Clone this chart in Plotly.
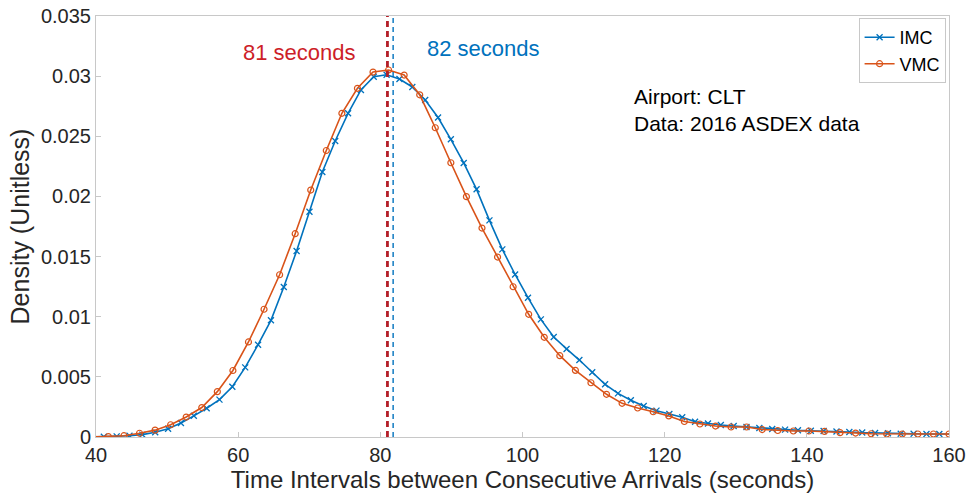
import plotly.graph_objects as go

# ---- data ----
vmc_x = [39.55, 41.74, 43.93, 46.12, 48.31, 50.50, 52.69, 54.88, 57.07, 59.26,
         61.45, 63.64, 65.83, 68.02, 70.21, 72.40, 74.59, 76.78, 78.97, 81.16,
         83.35, 85.54, 87.73, 89.92, 92.11, 94.30, 96.49, 98.68, 100.87, 103.06,
         105.25, 107.44, 109.63, 111.82, 114.01, 116.20, 118.39, 120.58, 122.77, 124.96,
         127.15, 129.34, 131.53, 133.72, 135.91, 138.10, 140.29, 142.48, 144.67, 146.86,
         149.05, 151.24, 153.43, 155.62, 157.81, 160.00]
vmc_y = [0.00001, 0.00003, 0.00011, 0.00031, 0.00057, 0.00102, 0.00166, 0.00245, 0.00377, 0.00553,
         0.00790, 0.01062, 0.01349, 0.01690, 0.02053, 0.02382, 0.02691, 0.02899, 0.03034, 0.03051,
         0.03009, 0.02845, 0.02571, 0.02280, 0.01998, 0.01737, 0.01496, 0.01249, 0.01020, 0.00829,
         0.00676, 0.00554, 0.00451, 0.00355, 0.00280, 0.00241, 0.00210, 0.00175, 0.00129, 0.00108,
         0.00091, 0.00083, 0.00083, 0.00062, 0.00054, 0.00050, 0.00050, 0.00046, 0.00036, 0.00033,
         0.00027, 0.00025, 0.00025, 0.00025, 0.00025, 0.00025]

imc_x = [39.29, 41.10, 42.91, 44.71, 46.52, 48.33, 50.14, 51.95, 53.76, 55.57,
         57.37, 59.18, 60.99, 62.80, 64.61, 66.42, 68.22, 70.03, 71.84, 73.65,
         75.46, 77.27, 79.07, 80.88, 82.69, 84.50, 86.31, 88.12, 89.92, 91.73,
         93.54, 95.35, 97.16, 98.96, 100.77, 102.58, 104.39, 106.20, 108.00, 109.81,
         111.62, 113.43, 115.24, 117.05, 118.85, 120.66, 122.47, 124.28, 126.09, 127.90,
         129.71, 131.51, 133.32, 135.13, 136.94, 138.75, 140.56, 142.36, 144.17, 145.98,
         147.79, 149.60, 151.41, 153.21, 155.02, 156.83, 158.64, 160.45]
imc_y = [0.00000, 0.00002, 0.00005, 0.00011, 0.00020, 0.00039, 0.00069, 0.00116, 0.00176, 0.00239,
         0.00311, 0.00418, 0.00579, 0.00767, 0.00970, 0.01247, 0.01546, 0.01873, 0.02203, 0.02461,
         0.02691, 0.02885, 0.02995, 0.03012, 0.02976, 0.02910, 0.02802, 0.02656, 0.02475, 0.02278,
         0.02059, 0.01801, 0.01560, 0.01351, 0.01158, 0.00978, 0.00831, 0.00732, 0.00640, 0.00538,
         0.00438, 0.00363, 0.00305, 0.00258, 0.00219, 0.00191, 0.00164, 0.00127, 0.00112, 0.00100,
         0.00091, 0.00083, 0.00075, 0.00067, 0.00061, 0.00056, 0.00052, 0.00050, 0.00046, 0.00042,
         0.00037, 0.00033, 0.00031, 0.00027, 0.00027, 0.00025, 0.00025, 0.00025]

median_vmc = 81.0
median_imc = 81.8
median_labels = ["81 seconds", "82 seconds"]
info_lines = ["Airport: CLT", "Data: 2016 ASDEX data"]

x_ticks = [40, 60, 80, 100, 120, 140, 160]
y_ticks = [0, 0.005, 0.01, 0.015, 0.02, 0.025, 0.03, 0.035]
y_ticktext = ["0", "0.005", "0.01", "0.015", "0.02", "0.025", "0.03", "0.035"]

BLUE = "rgb(0,114,189)"
ORANGE = "rgb(217,83,25)"
RED = "rgb(205,30,40)"
FONT = "Liberation Sans, Arial, Helvetica, sans-serif"
TXT = "#262626"

fig = go.Figure()
fig.add_trace(go.Scatter(
    x=imc_x, y=imc_y, name="IMC", mode="lines+markers",
    line=dict(color=BLUE, width=1.6),
    marker=dict(symbol="x-thin-open", size=6, color=BLUE, line=dict(color=BLUE, width=1.3)),
))
fig.add_trace(go.Scatter(
    x=vmc_x, y=vmc_y, name="VMC", mode="lines+markers",
    line=dict(color=ORANGE, width=1.6),
    marker=dict(symbol="circle-open", size=6, color=ORANGE, line=dict(color=ORANGE, width=1.2)),
))
fig.add_trace(go.Scatter(
    x=[median_vmc, median_vmc], y=[0, 0.035], mode="lines", showlegend=False,
    line=dict(color="rgb(180,30,40)", width=2.8, dash="6px,4px"), hoverinfo="skip",
))
fig.add_trace(go.Scatter(
    x=[median_imc, median_imc], y=[0, 0.035], mode="lines", showlegend=False,
    line=dict(color=BLUE, width=1.4, dash="5px,4px"), hoverinfo="skip",
))

fig.add_annotation(x=76.9, y=0.0320, xref="x", yref="y", text=median_labels[0],
                   showarrow=False, xanchor="right", yanchor="middle",
                   font=dict(family=FONT, size=22, color=RED))
fig.add_annotation(x=86.3, y=0.0323, xref="x", yref="y", text=median_labels[1],
                   showarrow=False, xanchor="left", yanchor="middle",
                   font=dict(family=FONT, size=22, color=BLUE))
fig.add_annotation(x=115.4, y=0.0283, xref="x", yref="y", text=info_lines[0],
                   showarrow=False, xanchor="left", yanchor="middle",
                   font=dict(family=FONT, size=21, color="black"))
fig.add_annotation(x=115.4, y=0.0261, xref="x", yref="y", text=info_lines[1],
                   showarrow=False, xanchor="left", yanchor="middle",
                   font=dict(family=FONT, size=21, color="black"))

axis_common = dict(
    showgrid=False, zeroline=False, showline=True, linecolor="#c8c8c8", linewidth=1,
    mirror=True, ticks="inside", ticklen=5, tickcolor="#c8c8c8", automargin=False,
    tickfont=dict(family=FONT, size=20, color=TXT),
)
fig.update_xaxes(range=[40, 160], tickvals=x_ticks,
                 title=dict(text="Time Intervals between Consecutive Arrivals (seconds)",
                            font=dict(family=FONT, size=24, color=TXT), standoff=4),
                 **axis_common)
fig.update_yaxes(range=[0, 0.035], tickvals=y_ticks, ticktext=y_ticktext,
                 title=dict(text="Density (Unitless)",
                            font=dict(family=FONT, size=25, color=TXT), standoff=4),
                 **axis_common)

fig.update_layout(
    width=969, height=501,
    margin=dict(l=96, r=20, t=16, b=64, autoexpand=False),
    plot_bgcolor="white", paper_bgcolor="white",
    font=dict(family=FONT, color=TXT),
    legend=dict(x=0.996, y=0.995, xanchor="right", yanchor="top",
                bgcolor="white", bordercolor="#c8c8c8", borderwidth=1,
                font=dict(family=FONT, size=18, color="black"),
                itemwidth=30, tracegroupgap=0),
    showlegend=True,
)

fig.write_html("out.html")
